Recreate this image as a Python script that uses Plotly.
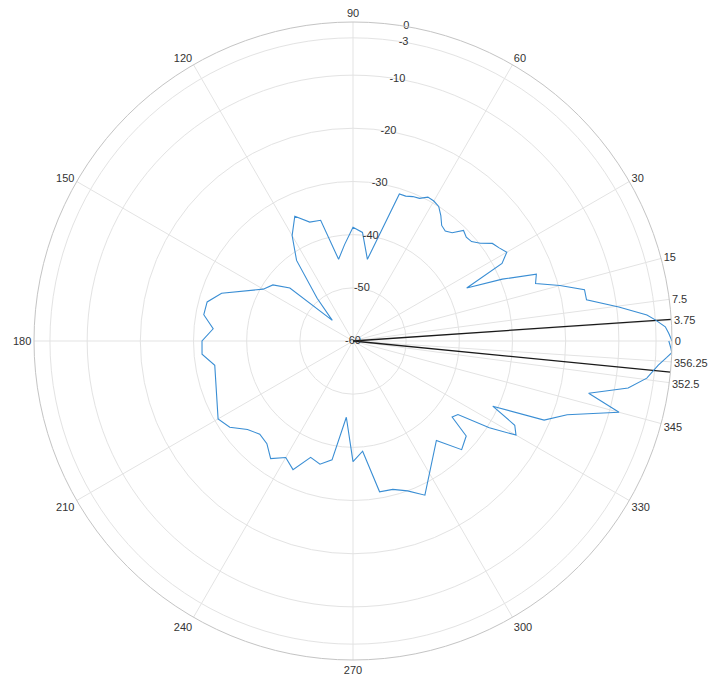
import plotly.graph_objects as go

# Measured pattern: angle (degrees) and normalised gain (dB)
theta_deg = [
    0, 1.4, 2.6, 4.0, 5.05, 7.3, 10, 12.5, 15, 17.5, 20, 22.5, 25, 27.5, 30,
    32.5, 35, 37.5, 40, 42.5, 45, 47.5, 50, 52.5, 55, 57.5, 60, 62.5, 65,
    67.5, 70, 72.5, 80, 85, 90, 95, 100, 105, 110, 115, 120, 125, 130, 135,
    140, 145, 150, 160, 165, 170, 175, 180, 185, 190, 210, 215, 220, 225,
    230, 235, 240, 245, 250, 255, 260, 265, 270, 275, 280, 285, 290, 295,
    310, 315, 320, 322.5, 325, 327.5, 330, 332.5, 335, 337.5, 341, 345,
    347.5, 350.3, 352.8, 355.5, 357.0, 357.9, 358.7, 360,
]
gain_db = [
    0.0, -0.6, -1.2, -3.0, -4.5, -9.6, -15.4, -15.4, -19.7, -24.0, -23.3,
    -29.6, -36.4, -28.4, -26.6, -27.4, -28.0, -29.8, -30.9, -31.1, -30.6,
    -32.4, -33.0, -32.6, -31.2, -30.0, -29.6, -29.5, -30.4, -30.6, -31.0,
    -31.0, -44.4, -39.5, -38.6, -41.8, -44.4, -36.5, -36.2, -34.1, -37.1,
    -41.5, -49.5, -54.5, -44.5, -41.6, -40.5, -33.7, -31.6, -31.5, -33.6,
    -31.6, -31.5, -33.6, -30.7, -31.7, -34.1, -35.2, -34.8, -33.0, -34.7,
    -33.3, -36.7, -36.0, -37.3, -45.6, -37.3, -39.2, -31.2, -31.1, -30.0,
    -28.0, -35.6, -31.1, -32.2, -36.5, -35.9, -29.6, -24.6, -25.7, -31.0,
    -21.1, -17.4, -8.2, -14.6, -7.5, -4.3, -2.4, -0.9, 0.0, -0.2, -0.6,
]

# -3 dB beamwidth edges
beam_edges_deg = [3.9, 354.4]

r_min, r_max = -60, 0
r_ticks = [-60, -50, -40, -30, -20, -10, -3, 0]
r_labels = ["-60", "-50", "-40", "-30", "-20", "-10", "-3", "0"]
r_label_angle = 80.4
theta_ticks = [0, 3.75, 7.5, 15, 30, 60, 90, 120, 150, 180, 210, 240, 270,
               300, 330, 345, 352.5, 356.25]
theta_labels = ["0", "3.75", "7.5", "15", "30", "60", "90", "120", "150",
                "180", "210", "240", "270", "300", "330", "345", "352.5",
                "356.25"]

fig = go.Figure()

for edge in beam_edges_deg:
    fig.add_trace(go.Scatterpolar(
        r=[r_min, r_max], theta=[edge, edge], mode="lines",
        line=dict(color="#1a1a1a", width=1.3), hoverinfo="skip",
        showlegend=False,
    ))

fig.add_trace(go.Scatterpolar(
    r=gain_db, theta=theta_deg, mode="lines",
    line=dict(color="#3a8ed4", width=1.1), showlegend=False,
))

# radial tick labels centred on a ray, placed through the polar scale
fig.add_trace(go.Scatterpolar(
    r=r_ticks, theta=[r_label_angle] * len(r_ticks), mode="text",
    text=r_labels, textposition="middle center",
    textfont=dict(size=11, color="#333333"),
    hoverinfo="skip", showlegend=False, cliponaxis=False,
))

fig.update_layout(
    width=709, height=678,
    margin=dict(l=34, r=37, t=22, b=18),
    paper_bgcolor="white",
    font=dict(family="Liberation Sans, Arial, sans-serif", size=11,
              color="#333333"),
    polar=dict(
        bgcolor="white",
        angularaxis=dict(
            direction="counterclockwise", rotation=0,
            tickmode="array", tickvals=theta_ticks, ticktext=theta_labels,
            showline=True, linecolor="#c4c4c4", linewidth=1,
            gridcolor="#e3e3e3", gridwidth=1, ticks="",
            tickfont=dict(size=11, color="#333333"),
        ),
        radialaxis=dict(
            range=[r_min, r_max], tickmode="array", tickvals=r_ticks,
            showticklabels=False, showline=False, ticks="",
            gridcolor="#e3e3e3", gridwidth=1,
        ),
    ),
)

fig.write_html("out.html")
